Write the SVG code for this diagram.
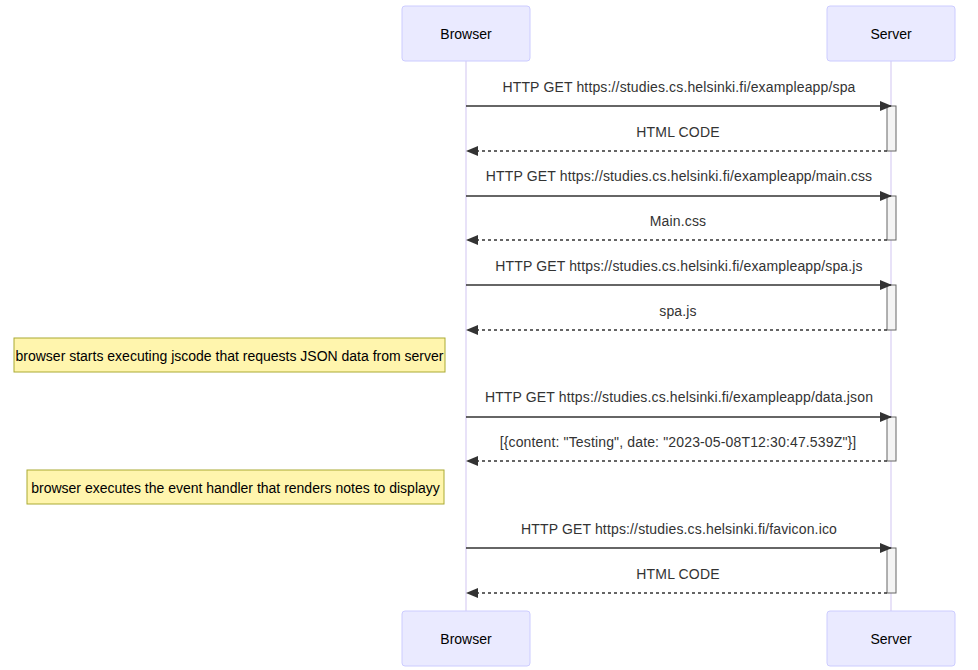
<svg xmlns="http://www.w3.org/2000/svg" width="978" height="670" viewBox="0 0 978 670">
<style>
.actor{fill:#eaeaff;stroke:#ccccff;stroke-width:1}
.atext{font-family:"Liberation Sans",Arial,sans-serif;font-size:14px;fill:#000;text-anchor:middle;dominant-baseline:central}
.life{stroke:#e0d8f6;stroke-width:1.5}
.msg{stroke:#333;stroke-width:1.5;fill:none}
.dash{stroke-dasharray:3,3}
.mtext{font-family:"Liberation Sans",Arial,sans-serif;font-size:14px;letter-spacing:0.15px;fill:#333;text-anchor:middle;dominant-baseline:central}
.act{fill:#f4f4f4;stroke:#666;stroke-width:1}
.note{fill:#fff5ad;stroke:#aaaa33;stroke-width:1}
.ntext{font-family:"Liberation Sans",Arial,sans-serif;font-size:14px;fill:#000;text-anchor:middle;dominant-baseline:central}
</style>
<defs>
<marker id="arrow" viewBox="0 0 12 12" refX="11" refY="6" markerWidth="12" markerHeight="12" markerUnits="userSpaceOnUse" orient="auto">
<path d="M0,1 L12,6 L0,11 z" fill="#333"/>
</marker>
</defs>
<rect width="978" height="670" fill="#fff"/>
<g id="lifelines">
<line class="life" x1="466" y1="61" x2="466" y2="611"/>
<line class="life" x1="891" y1="61" x2="891" y2="611"/>
</g>
<g id="actor-browser-top"><rect class="actor" x="402" y="6" width="128" height="55" rx="3"/><text class="atext" x="466" y="34">Browser</text></g>
<g id="actor-server-top"><rect class="actor" x="827" y="6" width="128" height="55" rx="3"/><text class="atext" x="891" y="34">Server</text></g>
<g id="actor-browser-bottom"><rect class="actor" x="402" y="611" width="128" height="55" rx="3"/><text class="atext" x="466" y="639">Browser</text></g>
<g id="actor-server-bottom"><rect class="actor" x="827" y="611" width="128" height="55" rx="3"/><text class="atext" x="891" y="639">Server</text></g>
<g id="activations">
<rect class="act" x="887" y="106" width="9" height="45"/>
<rect class="act" x="887" y="196" width="9" height="44"/>
<rect class="act" x="887" y="285" width="9" height="45"/>
<rect class="act" x="887" y="417" width="9" height="44"/>
<rect class="act" x="887" y="548" width="9" height="45"/>
</g>
<g id="connectors">
<line class="msg" x1="466" y1="106" x2="891" y2="106" marker-end="url(#arrow)"/>
<line class="msg dash" x1="887" y1="151" x2="467" y2="151" marker-end="url(#arrow)"/>
<line class="msg" x1="466" y1="196" x2="891" y2="196" marker-end="url(#arrow)"/>
<line class="msg dash" x1="887" y1="240" x2="467" y2="240" marker-end="url(#arrow)"/>
<line class="msg" x1="466" y1="285" x2="891" y2="285" marker-end="url(#arrow)"/>
<line class="msg dash" x1="887" y1="330" x2="467" y2="330" marker-end="url(#arrow)"/>
<line class="msg" x1="466" y1="417" x2="891" y2="417" marker-end="url(#arrow)"/>
<line class="msg dash" x1="887" y1="461" x2="467" y2="461" marker-end="url(#arrow)"/>
<line class="msg" x1="466" y1="548" x2="891" y2="548" marker-end="url(#arrow)"/>
<line class="msg dash" x1="887" y1="593" x2="467" y2="593" marker-end="url(#arrow)"/>
</g>
<g id="labels">
<text class="mtext" x="679" y="87">HTTP GET https://studies.cs.helsinki.fi/exampleapp/spa</text>
<text class="mtext" x="678" y="132">HTML CODE</text>
<text class="mtext" x="679" y="176">HTTP GET https://studies.cs.helsinki.fi/exampleapp/main.css</text>
<text class="mtext" x="678" y="221">Main.css</text>
<text class="mtext" x="679" y="266">HTTP GET https://studies.cs.helsinki.fi/exampleapp/spa.js</text>
<text class="mtext" x="678" y="311">spa.js</text>
<text class="mtext" x="679" y="397">HTTP GET https://studies.cs.helsinki.fi/exampleapp/data.json</text>
<text class="mtext" x="678" y="442">[{content: "Testing", date: "2023-05-08T12:30:47.539Z"}]</text>
<text class="mtext" x="679" y="529">HTTP GET https://studies.cs.helsinki.fi/favicon.ico</text>
<text class="mtext" x="678" y="574">HTML CODE</text>
</g>
<g id="note-1"><rect class="note" x="14" y="338" width="431" height="34"/><text class="ntext" x="229.5" y="356">browser starts executing jscode that requests JSON data from server</text></g>
<g id="note-2"><rect class="note" x="27" y="470" width="417" height="34"/><text class="ntext" x="235.5" y="488">browser executes the event handler that renders notes to displayy</text></g>
</svg>
